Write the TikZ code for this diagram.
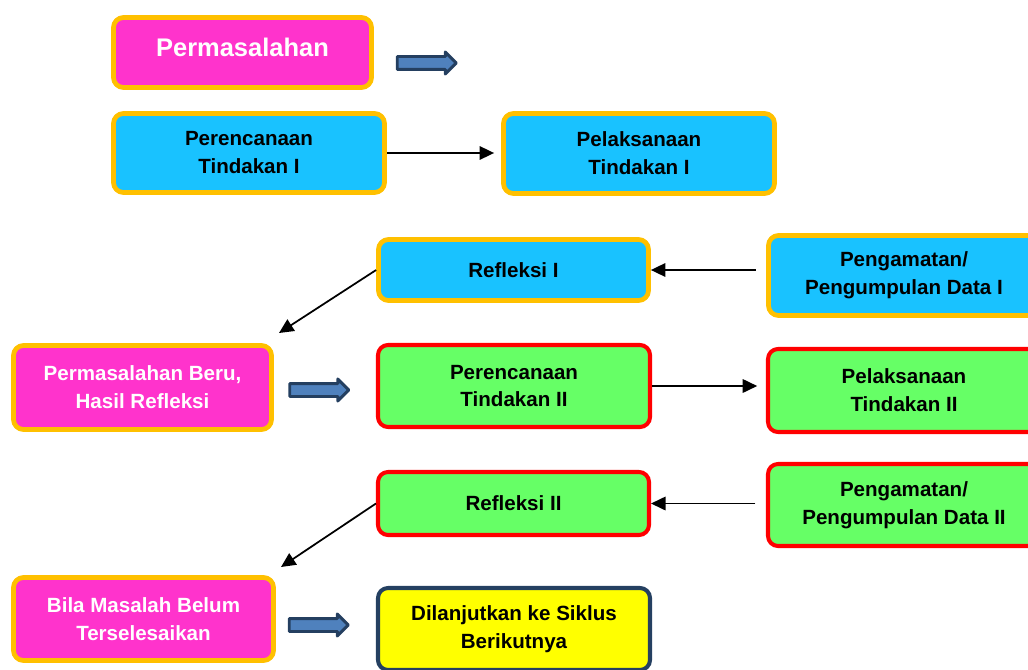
\documentclass[tikz,border=0pt]{standalone}
\usepackage{fontspec}
\setmainfont{Liberation Sans}
\usetikzlibrary{shapes.arrows,arrows.meta}
\definecolor{pinkfill}{HTML}{FF33CC}
\definecolor{goldline}{HTML}{FFC000}
\definecolor{cyanfill}{HTML}{19C2FF}
\definecolor{greenfill}{HTML}{66FF66}
\definecolor{redline}{HTML}{FF0000}
\definecolor{yellowfill}{HTML}{FFFF00}
\definecolor{navyline}{HTML}{254061}
\definecolor{arrowfill}{HTML}{4F81BD}
\definecolor{arrowline}{HTML}{243F60}
\begin{document}
\begin{tikzpicture}[>={Triangle[length=2.9mm,width=2.7mm]},line join=round,
		font=\fontsize{11.7}{15.9}\selectfont\bfseries,
		box/.style={rounded corners=0.2cm,align=center,inner sep=0pt,line width=2.7pt},
		pinkbox/.style={box,fill=pinkfill,draw=goldline,text=white},
		cyanbox/.style={box,fill=cyanfill,draw=goldline},
		greenbox/.style={box,fill=greenfill,draw=redline,line width=2.3pt},
		yellowbox/.style={box,fill=yellowfill,draw=navyline,line width=2.3pt},
		bigarrow/.style={single arrow,draw=arrowline,fill=arrowfill,line width=1.7pt,
			minimum height=1.18cm,inner xsep=0pt,inner ysep=0.1cm,single arrow head extend=0.09cm},
		link/.style={->,line width=1pt}]
		\useasboundingbox (0,0) rectangle (20.56,-13.4);
		\path 
		(5.58,-6.66) coordinate (R1end)
		(5.62,-11.34) coordinate (R2end)
		;
		% siklus I
		\node[pinkbox,minimum width=5.16cm,minimum height=1.40cm,text depth=0.2cm,font=\fontsize{14.5}{17}\selectfont\bfseries] (masalah) at (4.85,-1.05) {Permasalahan};
		\node[bigarrow] (panah1) at (8.47,-1.26) {};
		\node[cyanbox,minimum width=5.42cm,minimum height=1.58cm] (rencana1) at (4.98,-3.06) {Perencanaan\\Tindakan I};
		\node[cyanbox,minimum width=5.42cm,minimum height=1.60cm] (laksana1) at (12.78,-3.07) {Pelaksanaan\\Tindakan I};
		\node[cyanbox,minimum width=5.40cm,minimum height=1.22cm] (refleksi1) at (10.27,-5.40) {Refleksi I};
		\node[cyanbox,minimum width=5.42cm,minimum height=1.60cm] (amat1) at (18.08,-5.51) {Pengamatan/\\Pengumpulan Data I};
		% siklus II
		\node[pinkbox,minimum width=5.16cm,minimum height=1.68cm] (masalahbaru) at (2.85,-7.75) {Permasalahan Beru,\\Hasil Refleksi};
		\node[bigarrow] (panah2) at (6.32,-7.80) {};
		\node[greenbox,minimum width=5.44cm,minimum height=1.64cm] (rencana2) at (10.28,-7.72) {Perencanaan\\Tindakan II};
		\node[greenbox,minimum width=5.44cm,minimum height=1.66cm] (laksana2) at (18.08,-7.81) {Pelaksanaan\\Tindakan II};
		\node[greenbox,minimum width=5.42cm,minimum height=1.26cm] (refleksi2) at (10.27,-10.07) {Refleksi II};
		\node[greenbox,minimum width=5.44cm,minimum height=1.64cm] (amat2) at (18.08,-10.10) {Pengamatan/\\Pengumpulan Data II};
		% lanjut
		\node[pinkbox,minimum width=5.20cm,minimum height=1.66cm] (belum) at (2.87,-12.38) {Bila Masalah Belum\\Terselesaikan};
		\node[bigarrow] (panah3) at (6.31,-12.50) {};
		\node[yellowbox,minimum width=5.44cm,minimum height=1.64cm] (lanjut) at (10.28,-12.58) {Dilanjutkan ke Siklus\\Berikutnya};
		\draw[link,shorten >=4pt] (rencana1.east) -- (laksana1.west |- rencana1.east);
		\draw[link,shorten <=6pt] (amat1.west |- refleksi1.east) -- (refleksi1.east);
		\draw[link] (refleksi1.west) -- (R1end);
		\draw[link,shorten >=5pt] (rencana2.east) -- (laksana2.west |- rencana2.east);
		\draw[link,shorten <=6pt] (amat2.west |- refleksi2.east) -- (refleksi2.east);
		\draw[link] (refleksi2.west) -- (R2end);
	\end{tikzpicture}
\end{document}
